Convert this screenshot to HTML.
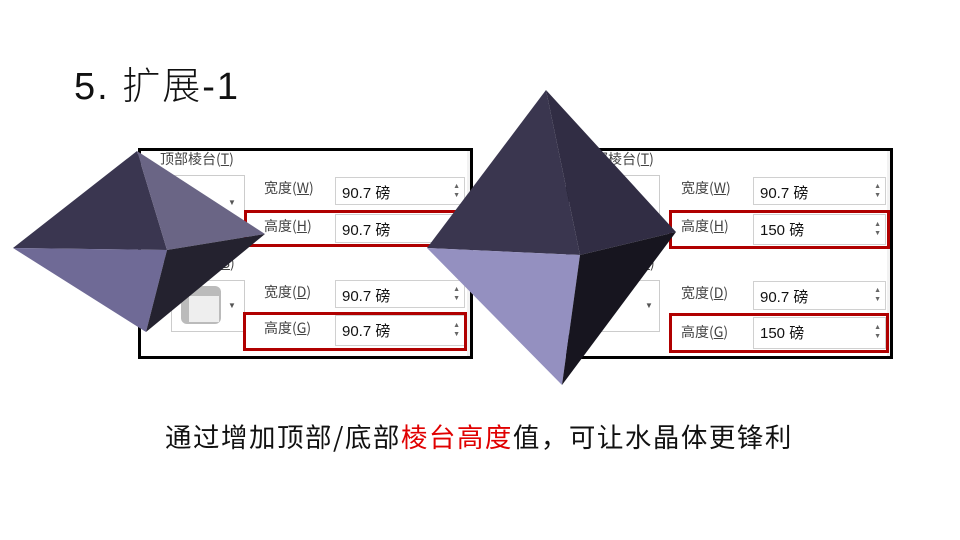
<!DOCTYPE html>
<html><head><meta charset="utf-8"><style>
body{margin:0;width:960px;height:540px;background:#fff;position:relative;overflow:hidden;font-family:"Liberation Sans","Noto Sans CJK SC",sans-serif}
.a{position:absolute}
.panel{position:absolute;border:3px solid #000;background:#f2f2f2;box-sizing:border-box}
.lbl{position:absolute;font-size:14px;color:#444;font-family:"Noto Sans CJK SC",sans-serif}
.inp{position:absolute;background:#fff;border:1px solid #d0d0d0;box-sizing:border-box;font-size:15px;color:#111;padding:4px 0 0 6px}
.spin{position:absolute;right:4px;font-size:7px;color:#666;line-height:9px}
.red{position:absolute;border:3px solid #b00000;box-sizing:border-box}
.thumb{position:absolute;background:#fff;border:1px solid #ccc;box-sizing:border-box}
</style></head><body>
<div class="a" style="left:74px;top:55px;font-size:38px;letter-spacing:2px;color:#111;font-weight:300">5. 扩展-1</div>

<!-- panel 1 -->
<div class="panel" style="left:138px;top:148px;width:335px;height:211px"></div>
<div class="a" style="left:141px;top:151px;width:326px;height:205px;background:#fff"></div>
<div class="lbl" style="left:160px;top:149px">顶部棱台(<u>T</u>)</div>
<div class="lbl" style="left:160px;top:253px">底部棱台(<u>B</u>)</div>
<div class="thumb" style="left:171px;top:175px;width:74px;height:54px"></div>
<div class="thumb" style="left:171px;top:280px;width:74px;height:52px"></div>
<div class="a" style="left:181px;top:286px;width:40px;height:38px;background:#bbb;border-radius:6px"></div>
<div class="a" style="left:189px;top:296px;width:30px;height:26px;background:#eee"></div>
<div class="a" style="left:228px;top:198px;font-size:8px;color:#555">▼</div>
<div class="a" style="left:228px;top:301px;font-size:8px;color:#555">▼</div>
<div class="lbl" style="left:264px;top:178px">宽度(<u>W</u>)</div>
<div class="lbl" style="left:264px;top:216px">高度(<u>H</u>)</div>
<div class="lbl" style="left:264px;top:282px">宽度(<u>D</u>)</div>
<div class="lbl" style="left:264px;top:318px">高度(<u>G</u>)</div>
<div class="inp" style="left:335px;top:177px;width:130px;height:28px">90.7 磅<div class="spin" style="top:4px">▲<br>▼</div></div>
<div class="inp" style="left:335px;top:214px;width:130px;height:29px">90.7 磅<div class="spin" style="top:4px">▲<br>▼</div></div>
<div class="inp" style="left:335px;top:280px;width:130px;height:28px">90.7 磅<div class="spin" style="top:4px">▲<br>▼</div></div>
<div class="inp" style="left:335px;top:315px;width:130px;height:31px">90.7 磅<div class="spin" style="top:5px">▲<br>▼</div></div>
<div class="red" style="left:244px;top:210px;width:227px;height:37px"></div>
<div class="red" style="left:243px;top:312px;width:224px;height:39px"></div>

<!-- panel 2 -->
<div class="panel" style="left:566px;top:148px;width:327px;height:211px"></div>
<div class="a" style="left:569px;top:151px;width:318px;height:205px;background:#fff"></div>
<div class="lbl" style="left:580px;top:149px">顶部棱台(<u>T</u>)</div>
<div class="lbl" style="left:580px;top:253px">底部棱台(<u>B</u>)</div>
<div class="thumb" style="left:590px;top:175px;width:70px;height:54px"></div>
<div class="thumb" style="left:590px;top:280px;width:70px;height:52px"></div>
<div class="a" style="left:645px;top:301px;font-size:8px;color:#555">▼</div>
<div class="lbl" style="left:681px;top:178px">宽度(<u>W</u>)</div>
<div class="lbl" style="left:681px;top:216px">高度(<u>H</u>)</div>
<div class="lbl" style="left:681px;top:283px">宽度(<u>D</u>)</div>
<div class="lbl" style="left:681px;top:322px">高度(<u>G</u>)</div>
<div class="inp" style="left:753px;top:177px;width:133px;height:28px">90.7 磅<div class="spin" style="top:4px">▲<br>▼</div></div>
<div class="inp" style="left:753px;top:214px;width:133px;height:31px">150 磅<div class="spin" style="top:5px">▲<br>▼</div></div>
<div class="inp" style="left:753px;top:281px;width:133px;height:29px">90.7 磅<div class="spin" style="top:4px">▲<br>▼</div></div>
<div class="inp" style="left:753px;top:317px;width:133px;height:32px">150 磅<div class="spin" style="top:5px">▲<br>▼</div></div>
<div class="red" style="left:669px;top:210px;width:221px;height:39px"></div>
<div class="red" style="left:669px;top:313px;width:220px;height:40px"></div>

<svg class="a" style="left:0;top:0" width="960" height="540">
<polygon points="137,151 13,248 167,250" fill="#3a3650"/>
<polygon points="137,151 167,250 265,234" fill="#6a6585"/>
<polygon points="13,248 167,250 146,332" fill="#6f6a96"/>
<polygon points="167,250 265,234 146,332" fill="#24222f"/>
<polygon points="546,90 427,248 580,255" fill="#3a364f"/>
<polygon points="546,90 580,255 676,232" fill="#312d44"/>
<polygon points="427,248 580,255 562,385" fill="#9490c0"/>
<polygon points="580,255 676,232 562,385" fill="#17151f"/>
</svg>

<div class="a" style="left:165px;top:418px;font-size:26.5px;letter-spacing:1.5px;color:#111;font-family:'Noto Sans CJK SC',sans-serif;white-space:nowrap;line-height:36px">通过增加顶部/底部<span style="color:#e00000">棱台高度</span>值，可让水晶体更锋利</div>
</body></html>
